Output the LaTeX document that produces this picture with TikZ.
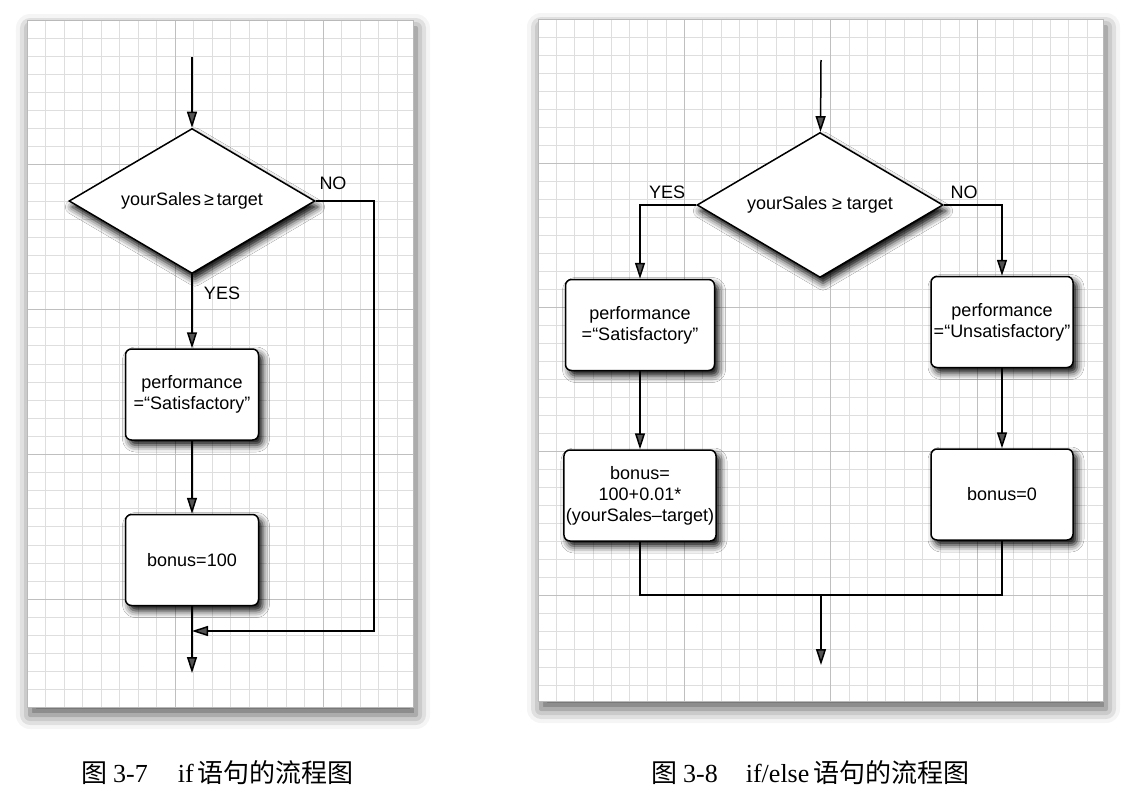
\documentclass[tikz,border=0pt]{standalone}
\usepackage{fontspec}
\setmainfont{Liberation Sans}
\newfontfamily\capfont{Liberation Serif}
\newfontfamily\cjk{Noto Sans CJK SC}
\usetikzlibrary{arrows.meta,positioning,shapes.geometric,shadows.blur}

\begin{document}
\begin{tikzpicture}[
  x=1pt, y=-1pt,
  font=\fontsize{18}{21}\selectfont,
  paper/.style={fill=white,
    blur shadow={shadow xshift=3pt, shadow yshift=-8pt, shadow blur radius=14pt, shadow opacity=65}},
  minor/.style={draw=gray!26, line width=0.8pt},
  major/.style={draw=gray!50, line width=0.9pt},
  test/.style={diamond, aspect=1.7, draw, line width=1.5pt, fill=white, inner sep=0pt,
    minimum width=246pt, minimum height=145pt,
    blur shadow={shadow xshift=3pt, shadow yshift=-6pt, shadow blur radius=7pt, shadow opacity=100}},
  stepbox/.style={draw, rounded corners=6pt, line width=1.5pt, fill=white, align=center,
    minimum height=91pt, inner sep=2pt,
    blur shadow={shadow xshift=4pt, shadow yshift=-5pt, shadow blur radius=7pt, shadow opacity=100}},
  arr/.style={-{Triangle[length=16pt,width=10pt]}, line width=1.5pt},
  link/.style={line width=1.5pt},
  caption/.style={anchor=west, inner sep=0pt, font=\capfont\fontsize{26}{28}\selectfont},
  node distance=73pt
]
\useasboundingbox (0,0) rectangle (1124,790);

% paper sheets with grid
\fill[paper] (27,20) rectangle (413,707);
\foreach \i in {0,...,20} \draw[minor] ({27+18.5*\i},20) -- ({27+18.5*\i},707);
\foreach \j in {0,...,37} \draw[minor] (27,{20+18.1*\j}) -- (413,{20+18.1*\j});
\foreach \i in {0,8,16} \draw[major] ({27+18.5*\i},20) -- ({27+18.5*\i},707);
\foreach \j in {0,8,16,24,32} \draw[major] (27,{20+18.1*\j}) -- (413,{20+18.1*\j});
\draw[gray!55, line width=0.6pt] (27,20) rectangle (413,707);

\fill[paper] (538,19) rectangle (1103,701);
\foreach \i in {0,...,30} \draw[minor] ({538+18.3*\i},19) -- ({538+18.3*\i},701);
\foreach \j in {0,...,37} \draw[minor] (538,{19+18*\j}) -- (1103,{19+18*\j});
\foreach \i in {0,8,16,24} \draw[major] ({538+18.3*\i},19) -- ({538+18.3*\i},701);
\foreach \j in {0,8,16,24,32} \draw[major] (538,{19+18*\j}) -- (1103,{19+18*\j});
\draw[gray!55, line width=0.6pt] (538,19) rectangle (1103,701);

% if
\coordinate (start) at (192,57);
\node[test] (cond) at (192,201) {yourSales\,≥\,target};
\node[stepbox, minimum width=133pt, below=74pt of cond] (perf) {performance\\=“Satisfactory”};
\node[stepbox, minimum width=133pt, below=of perf] (bonus) {bonus=100};
\coordinate (merge) at (192,631);
\coordinate (stop) at (192,673);
\node at (333,183) (no) {NO};
\node at (222,293) (yes) {YES};
\draw[arr] (start) -- (cond);
\draw[arr] (cond) -- (perf);
\draw[arr] (perf) -- (bonus);
\draw[arr] (bonus) -- (stop);
\draw[arr] (cond.east) -- ++(58,0) |- (merge);

% if/else
\coordinate (start2) at (821,60);
\node[test] (cond2) at (820,205) {yourSales ≥ target};
\node[stepbox, minimum width=149pt] (perfY) at (640,325) {performance\\=“Satisfactory”};
\node[stepbox, minimum width=142pt] (perfN) at (1002,322) {performance\\=“Unsatisfactory”};
\node[stepbox, minimum width=149pt, below=78pt of perfY] (bonusY) {bonus=\\100+0.01*\\(yourSales–target)};
\node[stepbox, minimum width=142pt, below=80pt of perfN] (bonusN) {bonus=0};
\coordinate (join) at (821,595);
\coordinate (stop2) at (821,665);
\node at (667,192) (yes2) {YES};
\node at (964,192) (no2) {NO};
\draw[arr] (start2) -- (cond2);
\draw[arr] (cond2.west) -| (perfY.north);
\draw[arr] (cond2.east) -| (perfN.north);
\draw[arr] (perfY) -- (bonusY);
\draw[arr] (perfN) -- (bonusN);
\draw[link] (bonusY.south) -- (bonusY.south |- join) -- (bonusN.south |- join) -- (bonusN.south);
\draw[arr] (join) -- (stop2);

% captions
\node[caption] (cap1) at (81,773) {{\cjk 图}\hspace{6pt}3-7\hspace{30pt}if\hspace{4pt}{\cjk 语句的流程图}};
\node[caption] (cap2) at (651,773) {{\cjk 图}\hspace{6pt}3-8\hspace{28pt}if/else\hspace{4pt}{\cjk 语句的流程图}};
\end{tikzpicture}
\end{document}
